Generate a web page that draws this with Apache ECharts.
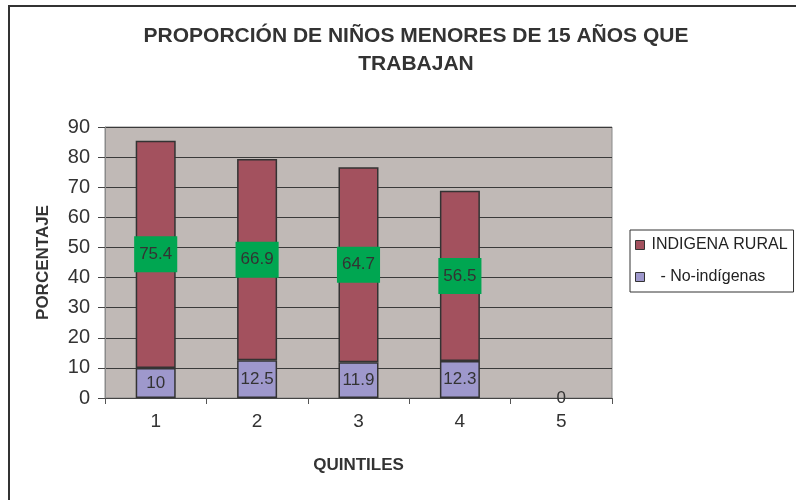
<!DOCTYPE html>
<html>
<head>
<meta charset="utf-8">
<script src="https://cdn.jsdelivr.net/npm/echarts@6/dist/echarts.min.js"></script>
<style>
  html, body { margin: 0; padding: 0; background: #fff; }
</style>
</head>
<body>
<div id="main" style="width:796px;height:500px"></div>
<script>
// datos del grafico
var quintiles = ['1', '2', '3', '4', '5'];
var noIndigenas = [10, 12.5, 11.9, 12.3, 0];
var indigenaRural = [75.4, 66.9, 64.7, 56.5, '-'];
var yTicks = { min: 0, max: 90, interval: 10 };

var myChart = echarts.init(document.getElementById('main'));

// barra con valor 0: sin borde (solo se ve la etiqueta)
var noIndigenasData = noIndigenas.map(function (v) {
    return v === 0 ? { value: v, itemStyle: { borderWidth: 0 } } : v;
});

var option = {
    backgroundColor: '#fff',
    animation: false,
    textStyle: { fontFamily: 'Liberation Sans, Arial, sans-serif' },
    title: {
        text: 'PROPORCIÓN DE NIÑOS MENORES DE 15 AÑOS QUE\nTRABAJAN',
        left: 411,
        top: 17,
        textAlign: 'center',
        textStyle: {
            fontSize: 21,
            fontWeight: 'bold',
            color: '#333',
            lineHeight: 28
        }
    },
    legend: {
        orient: 'vertical',
        left: 630,
        top: 230,
        padding: [7, 6, 7, 5],
        itemGap: 16,
        itemWidth: 9,
        itemHeight: 9,
        icon: 'rect',
        borderColor: '#333',
        borderWidth: 1,
        data: ['INDIGENA RURAL', '- No-indígenas'],
        itemStyle: { borderColor: '#333', borderWidth: 1 },
        textStyle: { fontSize: 16, color: '#222', padding: [0, 0, 0, 2] },
        formatter: function (name) {
            return name === '- No-indígenas' ? '  - No-indígenas' : name;
        }
    },
    grid: {
        left: 105,
        top: 127,
        width: 507,
        height: 271,
        show: true,
        backgroundColor: '#c0b9b6',
        borderColor: '#8a8a8a',
        borderWidth: 1
    },
    xAxis: {
        type: 'category',
        data: quintiles,
        name: 'QUINTILES',
        nameLocation: 'middle',
        nameGap: 59,
        nameTextStyle: { fontSize: 17, fontWeight: 'bold', color: '#333' },
        axisLine: { lineStyle: { color: '#444', width: 1 } },
        axisTick: { show: true, length: 6, lineStyle: { color: '#555' } },
        axisLabel: { fontSize: 19, color: '#333', margin: 14 }
    },
    yAxis: {
        type: 'value',
        min: yTicks.min,
        max: yTicks.max,
        interval: yTicks.interval,
        name: 'PORCENTAJE',
        nameLocation: 'middle',
        nameGap: 53,
        nameTextStyle: { fontSize: 17, fontWeight: 'bold', color: '#333' },
        axisLine: { show: true, lineStyle: { color: '#8a8a8a' } },
        axisTick: { show: true, length: 7, lineStyle: { color: '#444' } },
        axisLabel: { fontSize: 20, color: '#333', margin: 15 },
        splitLine: { show: true, lineStyle: { color: '#3a3a3a', width: 1 } }
    },
    series: [
        {
            name: '- No-indígenas',
            type: 'bar',
            stack: 'total',
            barWidth: 40,
            data: noIndigenasData,
            itemStyle: { color: '#9e98cc', borderColor: '#333', borderWidth: 1.5 },
            label: {
                show: true,
                position: 'inside',
                fontSize: 17,
                color: '#333'
            }
        },
        {
            name: 'INDIGENA RURAL',
            type: 'bar',
            stack: 'total',
            barWidth: 40,
            data: indigenaRural,
            itemStyle: { color: '#a3515e', borderColor: '#333', borderWidth: 1.5 },
            label: {
                show: true,
                position: 'inside',
                fontSize: 17,
                color: '#333',
                backgroundColor: '#00a651',
                lineHeight: 18,
                padding: [5, 5, 13, 5]
            }
        }
    ],
    graphic: [
        {
            type: 'polyline',
            shape: { points: [[9, 500], [9, 6], [796, 6]] },
            style: { stroke: '#333', lineWidth: 2, fill: null },
            silent: true
        }
    ]
};

myChart.setOption(option);
</script>
</body>
</html>
